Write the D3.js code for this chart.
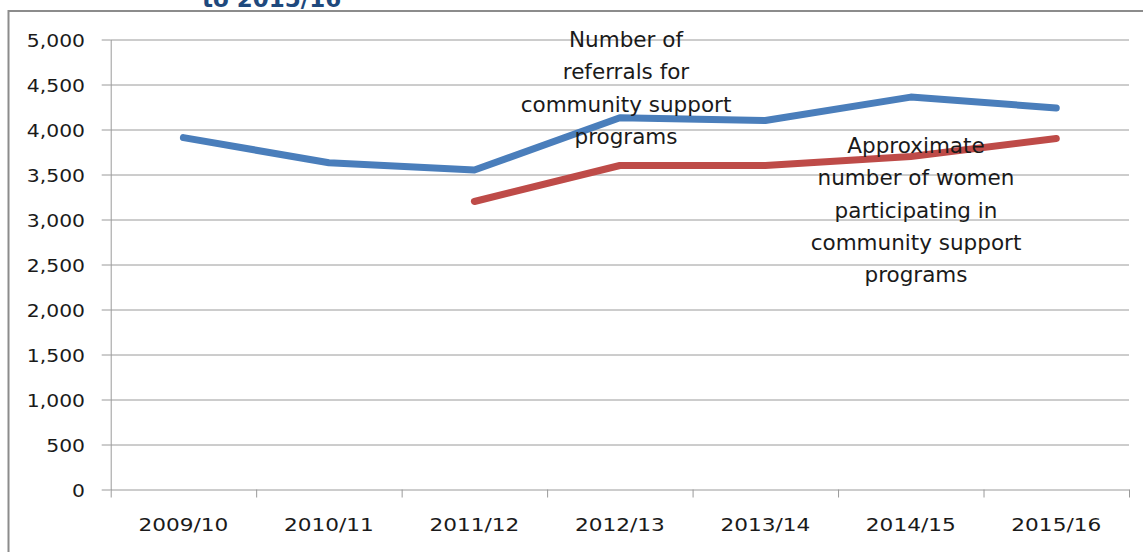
<!DOCTYPE html>
<html>
<head>
<meta charset="utf-8">
<script src="https://cdn.jsdelivr.net/npm/d3@7/dist/d3.min.js"></script>
<style>
  html, body { margin: 0; padding: 0; background: #fff; }
  svg { display: block; }
  text { font-family: "DejaVu Sans", sans-serif; fill: #1a1a1a; }
</style>
</head>
<body>
<svg id="chart" width="1143" height="552"></svg>
<script>
// ---- data ----
const categories = ["2009/10", "2010/11", "2011/12", "2012/13", "2013/14", "2014/15", "2015/16"];
const referrals = [3910, 3630, 3550, 4130, 4100, 4360, 4240];
const participants = [null, null, 3200, 3600, 3600, 3700, 3900];
const yTicks = [0, 500, 1000, 1500, 2000, 2500, 3000, 3500, 4000, 4500, 5000];
const titleTail = "to 2015/16";
const referralsLabel = ["Number of", "referrals for", "community support", "programs"];
const participantsLabel = ["Approximate", "number of women", "participating in", "community support", "programs"];

// ---- layout ----
const svg = d3.select("#chart");
const plotL = 110.7, plotR = 1129, plotT = 39.5, plotB = 489.5;

const x = d3.scaleBand().domain(categories).range([plotL, plotR]).padding(0);
const xEdge = d3.scaleLinear().domain([0, categories.length]).range([plotL, plotR]);
const y = d3.scaleLinear().domain([0, 5000]).range([plotB, plotT]);
const cx = c => x(c) + x.bandwidth() / 2;

// outer chart border (partially visible)
svg.append("rect")
  .attr("x", 8.5).attr("y", 11).attr("width", 1200).attr("height", 600)
  .attr("fill", "none").attr("stroke", "#8c8c8c").attr("stroke-width", 2);

// title remnant (clipped at top)
svg.append("text")
  .attr("x", 202).attr("y", 7)
  .style("font-family", "'DejaVu Sans', sans-serif")
  .style("font-weight", "bold")
  .style("font-size", "23px")
  .style("fill", "#1F497D")
  .text(titleTail);

// gridlines
const grid = svg.append("g")
  .attr("transform", `translate(${plotL},0)`)
  .call(d3.axisLeft(y).tickValues(yTicks.filter(v => v > 0)).tickSize(-(plotR - plotL)).tickFormat(""));
grid.select(".domain").remove();
grid.selectAll(".tick line").attr("stroke", "#9a9a9a").attr("stroke-width", 1);

// y axis
const yAxis = svg.append("g")
  .attr("transform", `translate(${plotL},0)`)
  .call(d3.axisLeft(y).tickValues(yTicks).tickSize(9).tickSizeOuter(0).tickFormat(""));
yAxis.select(".domain").attr("stroke", "#9a9a9a");
yAxis.selectAll(".tick line").attr("stroke", "#9a9a9a");

// y labels
svg.append("g").selectAll("text")
  .data(yTicks)
  .join("text")
  .attr("transform", d => `translate(85,${y(d) + 7}) scale(1.13,1)`)
  .attr("text-anchor", "end")
  .style("font-size", "18px")
  .text(d => d3.format(",")(d));

// x axis (ticks at band edges)
const xAxis = svg.append("g")
  .attr("transform", `translate(0,${plotB})`)
  .call(d3.axisBottom(xEdge).tickValues(d3.range(categories.length + 1)).tickSize(8).tickSizeOuter(0).tickFormat(""));
xAxis.select(".domain").attr("stroke", "#9a9a9a");
xAxis.selectAll(".tick line").attr("stroke", "#9a9a9a");

// x labels
svg.append("g").selectAll("text")
  .data(categories)
  .join("text")
  .attr("transform", d => `translate(${cx(d)},530.5) scale(1.17,1)`)
  .attr("text-anchor", "middle")
  .style("font-size", "18.5px")
  .text(d => d);

// lines
const line = d3.line()
  .defined(d => d.v != null)
  .x(d => cx(d.c))
  .y(d => y(d.v));

const seriesList = [
  { values: referrals, color: "#4A7EBB" },
  { values: participants, color: "#BE4B48" }
];
seriesList.forEach(s => {
  svg.append("path")
    .datum(categories.map((c, i) => ({ c, v: s.values[i] })))
    .attr("fill", "none")
    .attr("stroke", s.color)
    .attr("stroke-width", 7)
    .attr("stroke-linecap", "round")
    .attr("stroke-linejoin", "round")
    .attr("d", line);
});

// annotations
function annotate(lines, xc, y0) {
  svg.append("g").selectAll("text")
    .data(lines)
    .join("text")
    .attr("x", xc)
    .attr("y", (d, i) => y0 + i * 32.3)
    .attr("text-anchor", "middle")
    .style("font-size", "21.5px")
    .text(d => d);
}
annotate(referralsLabel, 626, 47);
annotate(participantsLabel, 916, 153);
</script>
</body>
</html>
